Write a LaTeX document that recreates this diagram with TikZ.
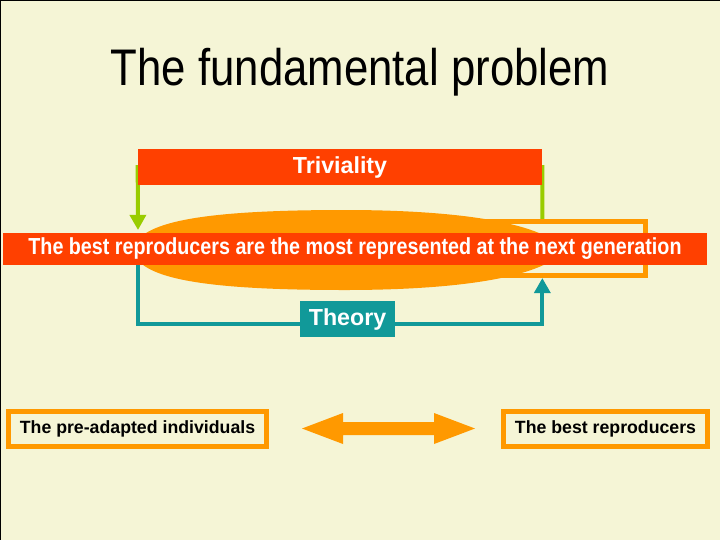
\documentclass[tikz,border=0pt]{standalone}
\usepackage{fontspec}
\setmainfont{Liberation Sans}
\newfontfamily\titlefont[FakeStretch=0.85]{Liberation Sans}
\usetikzlibrary{arrows.meta}
\definecolor{slidebg}{RGB}{245,245,214}
\definecolor{flame}{RGB}{255,64,0}
\definecolor{amber}{RGB}{255,153,0}
\definecolor{lime}{RGB}{153,204,0}
\definecolor{theoteal}{RGB}{17,153,153}
\pgfdeclarelayer{bg}
\pgfdeclarelayer{wires}
\pgfsetlayers{bg,wires,main}
\begin{document}
\begin{tikzpicture}[x=0.025cm, y=-0.025cm,
		redbar/.style={fill=flame, text=white, inner sep=0pt, font=\bfseries\fontsize{16.5}{18}\selectfont},
		framebox/.style={draw=amber, fill=slidebg, line width=0.125cm, inner sep=0pt, font=\bfseries\fontsize{12.6}{14}\selectfont},
		loopline/.style={line width=0.1cm, -{Triangle[width=0.4cm, length=0.38cm]}}]
		\useasboundingbox (0,0) rectangle (720,540);
		% slide, the outcome box under the lens, and the lens itself
		\begin{pgfonlayer}{bg}
			\fill[slidebg] (0,0) rectangle (720,540);
			\draw[black, line width=1.5pt] (0,540) -- (0,0) -- (720,0);
			\node[framebox, minimum width=8.64cm, minimum height=1.35cm] (outcome) at (472.75,248.5) {};
			\fill[amber] (133,250) .. controls (138,222) and (200,210) .. (345,210)
				.. controls (445,210) and (540,220) .. (565,250)
				.. controls (540,280) and (445,290) .. (345,290)
				.. controls (200,290) and (138,278) .. (133,250);
		\end{pgfonlayer}
		% title
		\node[anchor=base, font=\titlefont\fontsize{36.6}{40}\selectfont] (title) at (360,85) {The fundamental problem};
		% the two readings of the loop
		\node[redbar, minimum width=10.1cm, minimum height=0.9cm] (triv) at (340,167) {Triviality};
		\node[redbar, fill=theoteal, minimum width=2.375cm, minimum height=0.9cm] (theory) at (347.5,319) {Theory};
		\coordinate (loopL) at (138,250);
		\begin{pgfonlayer}{wires}
			\draw[loopline, lime] (outcome.north -| triv.east) |- (triv.west) -- ([yshift=0.5cm]loopL);
			\draw[loopline, theoteal] (loopL) |- ([yshift=-0.125cm]theory.center) -| (outcome.south -| triv.east);
		\end{pgfonlayer}
		% the statement across the slide
		\node[redbar, minimum width=17.6cm, minimum height=0.8cm, font=\titlefont\bfseries\fontsize{16.5}{18}\selectfont] (rule) at (355,249)
			{The best reproducers are the most represented at the next generation};
		% the two groups and the link between them
		\node[framebox, minimum width=6.45cm, minimum height=0.875cm] (preadapted) at (137.5,429) {The pre-adapted individuals};
		\node[framebox, minimum width=5.1cm, minimum height=0.875cm] (bestrep) at (605.5,429) {The best reproducers};
		\fill[amber] (302,428.5) -- (343,413) -- (343,422) -- (434,422) -- (434,413) -- (475,428.5)
			-- (434,444) -- (434,435) -- (343,435) -- (343,444) -- cycle;
	\end{tikzpicture}
\end{document}
